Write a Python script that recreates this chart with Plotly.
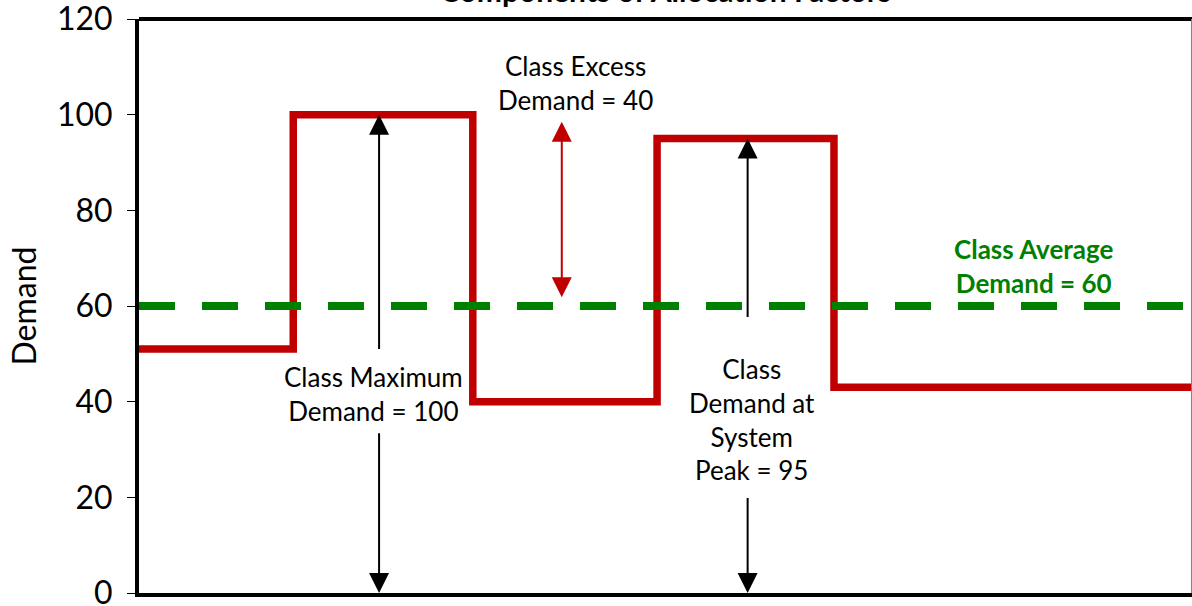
import plotly.graph_objects as go

# ---- data ----
step_x = [0, 14.65, 31.7, 49.2, 66.0, 100]
step_y = [51, 100, 40, 95, 43, 43]
avg_demand = 60
x_range = [0, 100]
y_ticks = [0, 20, 40, 60, 80, 100, 120]

max_arrow_x = 22.8
max_demand = 100
peak_arrow_x = 57.8
peak_demand = 95
excess_arrow_x = 40.15
excess_top = 98.5
excess_bottom = 61.5

FONT = "Lato"
RED = "#C00000"
GREEN = "#008000"

fig = go.Figure()

fig.add_trace(go.Scatter(
    x=step_x, y=step_y, mode="lines", line=dict(color=RED, width=7.5, shape="hv"),
    hoverinfo="skip", showlegend=False))

fig.add_trace(go.Scatter(
    x=[x_range[0], x_range[1]], y=[avg_demand, avg_demand], mode="lines",
    line=dict(color=GREEN, width=8, dash="36px,27px"),
    hoverinfo="skip", showlegend=False))

ann = []

def arrow(x, y_head, y_tail, color="black", side="end"):
    ann.append(dict(x=x, y=y_head, ax=x, ay=y_tail, xref="x", yref="y", axref="x", ayref="y",
                    text="", showarrow=True, arrowhead=2, arrowsize=2.0, arrowwidth=2,
                    arrowcolor=color, arrowside=side, startarrowhead=2, startarrowsize=2.0))

# Class maximum arrows (split around the label)
arrow(max_arrow_x, max_demand, 50.7)
arrow(max_arrow_x, 0, 33.7)
# Class demand at system peak arrows
arrow(peak_arrow_x, peak_demand, 57.4)
arrow(peak_arrow_x, 0, 20.2)
# Class excess double arrow
arrow(excess_arrow_x, excess_top, excess_bottom, color=RED, side="end+start")

ann.append(dict(x=22.3, y=41.6, xref="x", yref="y", showarrow=False,
                text="Class Maximum<br>Demand = 100",
                font=dict(family=FONT, size=26, color="black")))
ann.append(dict(x=58.2, y=36.2, xref="x", yref="y", showarrow=False,
                text="Class<br>Demand at<br>System<br>Peak = 95",
                font=dict(family=FONT, size=26, color="black")))
ann.append(dict(x=41.5, y=106.6, xref="x", yref="y", showarrow=False,
                text="Class Excess<br>Demand = 40",
                font=dict(family=FONT, size=26, color="black")))
ann.append(dict(x=85.0, y=68.3, xref="x", yref="y", showarrow=False,
                text="<b>Class Average<br>Demand = 60</b>",
                font=dict(family=FONT, size=26, color=GREEN)))

# Title, cropped at the top of the picture (as in the reference)
ann.append(dict(x=0.5, y=1, xref="paper", yref="paper", xanchor="center", yanchor="bottom",
                yshift=9, showarrow=False,
                text="<b>Components of Allocation Factors</b>",
                font=dict(family=FONT, size=30, color="black")))

fig.update_layout(
    width=1192, height=606,
    margin=dict(l=139, r=0, t=19, b=13, autoexpand=False),
    paper_bgcolor="white", plot_bgcolor="white",
    annotations=ann,
    shapes=[
        dict(type="line", xref="paper", yref="paper", x0=0, x1=1.01, y0=1, y1=1,
             line=dict(color="black", width=4)),
        dict(type="line", xref="paper", yref="paper", x0=0.9995, x1=0.9995, y0=0, y1=1,
             line=dict(color="#808080", width=1)),
    ],
)

fig.update_xaxes(range=x_range, showgrid=False, zeroline=False, showticklabels=False,
                 ticks="", showline=True, linecolor="black", linewidth=4, automargin=False)
fig.update_yaxes(range=[0, 120], tickvals=y_ticks, showgrid=False, zeroline=False,
                 ticks="outside", ticklen=8, tickwidth=1, tickcolor="black",
                 showline=True, linecolor="black", linewidth=4, automargin=False,
                 tickfont=dict(family=FONT, size=32, color="black"),
                 ticklabelstandoff=8, ticklabeloverflow="allow",
                 title=dict(text="Demand", font=dict(family=FONT, size=32, color="black"),
                            standoff=12))

fig.write_html("out.html")
